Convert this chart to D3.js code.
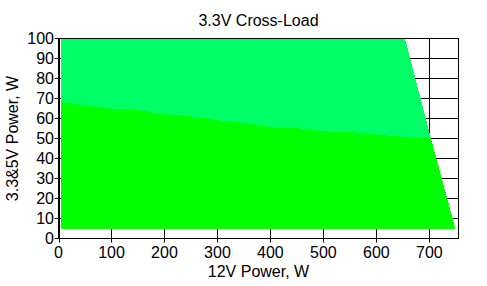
<!DOCTYPE html>
<html>
<head>
<meta charset="utf-8">
<script src="https://cdn.jsdelivr.net/npm/d3@7"></script>
<style>
  body { margin: 0; background: #fff; }
  text { font-family: Arial, "Liberation Sans", sans-serif; fill: #000; }
</style>
</head>
<body>
<div id="chart"></div>
<script>
// 12V load (W) along the border between the two zones, and the 3.3&5V load there
const border12V = [5, 44, 97, 163, 182, 233, 270, 305, 361, 405, 455, 506, 569, 612, 663, 700];
const border33V = [68.4, 66.7, 65, 63.9, 62.6, 61.5, 60.4, 59, 57.5, 55.5, 55, 53.5, 52.9, 51.7, 50.5, 50];

// right-hand limit of the tested area (max total load)
const limit33V = [100, 51, 5];
const limit12V = [654, 702, 749];

const min12V = 5;
const min33V = 5;

const xTicks = [0, 100, 200, 300, 400, 500, 600, 700];
const yTicks = [0, 10, 20, 30, 40, 50, 60, 70, 80, 90, 100];

const width = 487;
const height = 286;

const x = d3.scaleLinear().domain([0, 755]).range([58.5, 458.5]);
const y = d3.scaleLinear().domain([0, 100]).range([238.5, 38.5]);

const svg = d3.select('#chart')
	.append('svg')
	.attr('width', width)
	.attr('height', height);

// grid lines (hidden under the fills)
svg.append('g')
	.selectAll('line')
	.data(xTicks)
	.enter()
	.append('line')
	.attr('x1', (d) => Math.round(x(d)) + 0.5)
	.attr('x2', (d) => Math.round(x(d)) + 0.5)
	.attr('y1', y(100))
	.attr('y2', y(0))
	.attr('stroke', '#000');

svg.append('g')
	.selectAll('line')
	.data(yTicks)
	.enter()
	.append('line')
	.attr('x1', x(0))
	.attr('x2', x(755))
	.attr('y1', (d) => y(d))
	.attr('y2', (d) => y(d))
	.attr('stroke', '#000');

const border = border12V.map((d, i) => [d, border33V[i]]);
const limit = limit12V.map((d, i) => [d, limit33V[i]]);

const line = d3.line()
	.x((d) => x(d[0]))
	.y((d) => y(d[1]));

// upper zone
const upper = [[min12V, 100], limit[0], limit[1]]
	.concat(border.slice().reverse());
svg.append('path')
	.attr('d', line(upper) + 'Z')
	.attr('fill', '#00ff66')
	.attr('shape-rendering', 'crispEdges');

// lower zone
const lower = border.concat([limit[1], limit[2], [min12V, min33V]]);
svg.append('path')
	.attr('d', line(lower) + 'Z')
	.attr('fill', '#00ff00')
	.attr('shape-rendering', 'crispEdges');

// frame
svg.append('rect')
	.attr('x', x(0))
	.attr('y', y(100))
	.attr('width', x(755) - x(0))
	.attr('height', y(0) - y(100))
	.attr('fill', 'none')
	.attr('stroke', '#000');

// ticks
svg.append('g')
	.selectAll('line')
	.data(xTicks)
	.enter()
	.append('line')
	.attr('x1', (d) => Math.round(x(d)) + 0.5)
	.attr('x2', (d) => Math.round(x(d)) + 0.5)
	.attr('y1', y(0))
	.attr('y2', y(0) + 4)
	.attr('stroke', '#000');

svg.append('g')
	.selectAll('line')
	.data(yTicks)
	.enter()
	.append('line')
	.attr('x1', x(0) - 4)
	.attr('x2', x(0))
	.attr('y1', (d) => y(d))
	.attr('y2', (d) => y(d))
	.attr('stroke', '#000');

// tick labels
svg.append('g')
	.selectAll('text')
	.data(xTicks)
	.enter()
	.append('text')
	.attr('x', (d) => x(d))
	.attr('y', 257.5)
	.attr('text-anchor', 'middle')
	.style('font-size', '16px')
	.text((d) => d);

svg.append('g')
	.selectAll('text')
	.data(yTicks)
	.enter()
	.append('text')
	.attr('x', 54)
	.attr('y', (d) => y(d) + 5.5)
	.attr('text-anchor', 'end')
	.style('font-size', '16px')
	.text((d) => d);

// titles
svg.append('text')
	.attr('x', (x(0) + x(755)) / 2)
	.attr('y', 26)
	.attr('text-anchor', 'middle')
	.style('font-size', '16px')
	.text('3.3V Cross-Load');

svg.append('text')
	.attr('x', (x(0) + x(755)) / 2)
	.attr('y', 277)
	.attr('text-anchor', 'middle')
	.style('font-size', '16px')
	.text('12V Power, W');

svg.append('text')
	.attr('transform', `translate(18,${(y(0) + y(100)) / 2}) rotate(-90)`)
	.attr('text-anchor', 'middle')
	.style('font-size', '16px')
	.text('3.3&5V Power, W');
</script>
</body>
</html>
